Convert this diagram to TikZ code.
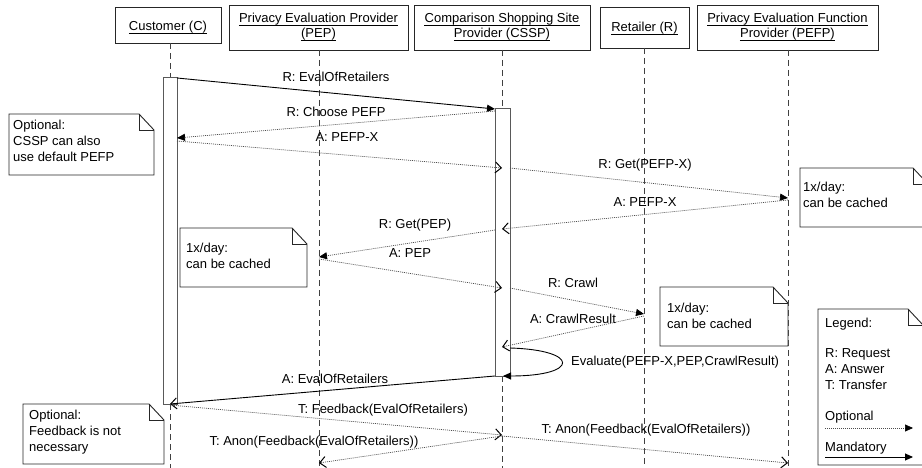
\documentclass[tikz,border=0pt]{standalone}
\usepackage{fontspec}
\setmainfont{Liberation Sans}
\usetikzlibrary{arrows.meta}
\tikzset{
  head/.style={draw=black!85, line width=0.9pt, inner sep=0pt, fill=white},
  headtext/.style={inner sep=0pt, anchor=center, text height=9.5pt, text depth=2.5pt},
  uline/.style={draw=black, line width=1.1pt},
  life/.style={draw=black!75, line width=0.8pt, dash pattern=on 6pt off 4pt},
  actbox/.style={draw=black!65, line width=1pt, fill=white},
  msgsolid/.style={draw=black, line width=0.9pt},
  msgopt/.style={draw=black!70, line width=0.7pt, dash pattern=on 1pt off 1pt},
  filled/.style={-{Triangle[length=8pt,width=7pt,color=black]}},
  open/.style={-{Straight Barb[length=6pt,width=11pt,line width=1pt,color=black]}},
  lbl/.style={inner sep=0pt, anchor=center},
  notetext/.style={inner sep=0pt, anchor=north west, align=left},
  notepath/.style={draw=black!85, line width=0.9pt, fill=white}
}
\newcommand\dognote[4]{%
  \draw[notepath] (#1,#2) -- (#3-15,#2) -- (#3,#2+16) -- (#3,#4) -- (#1,#4) -- cycle;
  \draw[notepath, fill=none] (#3-15,#2) -- (#3-15,#2+16) -- (#3,#2+16);
}
\newcommand\ulnode[1]{%
  \draw[uline] ([yshift=-2.6pt]#1.base west) -- ([yshift=-2.6pt]#1.base east);
}
\begin{document}
\begin{tikzpicture}[x=1pt,y=-1pt, font=\fontsize{13}{16}\selectfont]
\useasboundingbox[fill=white] (0,0) rectangle (922,468);

% headers
\node[head, minimum width=106pt, minimum height=36pt] (cust) at (168,25) {};
\node[headtext] (custt) at (168,27) {Customer (C)};
\node[head, minimum width=179pt, minimum height=45pt] (pep) at (318.5,27.5) {};
\node[headtext] (pept1) at (318.5,19) {Privacy Evaluation Provider};
\node[headtext] (pept2) at (318.5,34) {(PEP)};
\node[head, minimum width=176pt, minimum height=45pt] (cssp) at (502,27.5) {};
\node[headtext] (csspt1) at (502,19) {Comparison Shopping Site};
\node[headtext] (csspt2) at (502,34) {Provider (CSSP)};
\node[head, minimum width=89pt, minimum height=41pt] (ret) at (644.5,27.5) {};
\node[headtext] (rett) at (644.5,28) {Retailer (R)};
\node[head, minimum width=181pt, minimum height=45pt] (pefp) at (787.5,27.5) {};
\node[headtext] (pefpt1) at (787.5,19) {Privacy Evaluation Function};
\node[headtext] (pefpt2) at (787.5,34) {Provider (PEFP)};
\ulnode{custt}\ulnode{pept1}\ulnode{pept2}\ulnode{csspt1}\ulnode{csspt2}
\ulnode{rett}\ulnode{pefpt1}\ulnode{pefpt2}

% lifeline coordinates
\coordinate (custA) at (170,43);
\coordinate (custB) at (170,78);
\coordinate (custC) at (170,404);
\coordinate (custD) at (170,468);
\coordinate (pepA) at (319,50);
\coordinate (pepD) at (319,468);
\coordinate (csspA) at (502,50);
\coordinate (csspB) at (502,109);
\coordinate (csspC) at (502,376);
\coordinate (csspD) at (502,468);
\coordinate (retA) at (644,48);
\coordinate (retD) at (644,468);
\coordinate (pefpA) at (788,50);
\coordinate (pefpD) at (788,468);

\draw[life] (custA) -- (custB);
\draw[life] (custC) -- (custD);
\draw[life] (pepA) -- (pepD);
\draw[life] (csspA) -- (csspB);
\draw[life] (csspC) -- (csspD);
\draw[life] (retA) -- (retD);
\draw[life] (pefpA) -- (pefpD);

% activation boxes
\draw[actbox] (163,78) rectangle (177,404);
\draw[actbox] (495,109) rectangle (510,376);

% notes
\dognote{9}{114}{154}{175}
\node[notetext] (n1) at (13,120) {Optional:\\CSSP can also\\use default PEFP};
\dognote{800}{168}{928}{227}
\node[notetext] (n2) at (803,182) {1x/day:\\can be cached};
\dognote{180}{228}{307}{287}
\node[notetext] (n3) at (186,243) {1x/day:\\can be cached};
\dognote{660}{287}{788}{346}
\node[notetext] (n4) at (667,303) {1x/day:\\can be cached};
\dognote{23}{404}{164}{464}
\node[notetext] (n5) at (29,410) {Optional:\\Feedback is not\\necessary};
\dognote{818}{309}{923}{465}
\node[notetext] (lg1) at (825,318) {Legend:};
\node[notetext] (lg2) at (825,348) {R: Request\\A: Answer\\T: Transfer};
\node[notetext] (lg3) at (825,411) {Optional};
\node[notetext] (lg4) at (825,442) {Mandatory};
\coordinate (lgoA) at (825,428);
\coordinate (lgoB) at (913,428);
\coordinate (lgmA) at (825,457);
\coordinate (lgmB) at (913,457);
\draw[msgopt, filled] (lgoA) -- (lgoB);
\draw[msgsolid, filled] (lgmA) -- (lgmB);

% message endpoints
\coordinate (m1a) at (177,78);   \coordinate (m1b) at (495,109);
\coordinate (m2a) at (495,111);  \coordinate (m2b) at (177,138);
\coordinate (m3a) at (177,141);  \coordinate (m3b) at (502,168);
\coordinate (m4a) at (510,168);  \coordinate (m4b) at (788,198);
\coordinate (m5a) at (788,200);  \coordinate (m5b) at (502,229);
\coordinate (m6a) at (495,230);  \coordinate (m6b) at (319,257);
\coordinate (m7a) at (319,259);  \coordinate (m7b) at (502,288);
\coordinate (m8a) at (510,288);  \coordinate (m8b) at (644,314);
\coordinate (m9a) at (644,316);  \coordinate (m9b) at (502,347);
\coordinate (m10a) at (510,348); \coordinate (m10b) at (503,376);
\coordinate (m11a) at (495,376); \coordinate (m11b) at (170,404);
\coordinate (m12a) at (170,405); \coordinate (m12b) at (502,435);
\coordinate (m13a) at (502,436); \coordinate (m13b) at (319,463);
\coordinate (m14b) at (788,463);

% messages
\draw[msgsolid, filled] (m1a) -- (m1b);
\draw[msgopt, filled] (m2a) -- (m2b);
\draw[msgopt, open] (m3a) -- (m3b);
\draw[msgopt, filled] (m4a) -- (m4b);
\draw[msgopt, open] (m5a) -- (m5b);
\draw[msgopt, filled] (m6a) -- (m6b);
\draw[msgopt, open] (m7a) -- (m7b);
\draw[msgopt, filled] (m8a) -- (m8b);
\draw[msgopt, open] (m9a) -- (m9b);
\draw[msgsolid, filled] (m10a) .. controls (580,350) and (580,376) .. (m10b);
\draw[msgsolid, open] (m11a) -- (m11b);
\draw[msgopt, open] (m12a) -- (m12b);
\draw[msgopt, open] (m13a) -- (m13b);
\draw[msgopt, open] (m13a) -- (m14b);

% labels
\node[lbl] (l1) at (336,77) {R: EvalOfRetailers};
\node[lbl] (l2) at (336,112) {R: Choose PEFP};
\node[lbl] (l3) at (347,137) {A: PEFP-X};
\node[lbl] (l4) at (645,165) {R: Get(PEFP-X)};
\node[lbl] (l5) at (645,202) {A: PEFP-X};
\node[lbl] (l6) at (415,225) {R: Get(PEP)};
\node[lbl] (l7) at (410,253) {A: PEP};
\node[lbl] (l8) at (573,283) {R: Crawl};
\node[lbl] (l9) at (573,319) {A: CrawlResult};
\node[lbl, anchor=west] (l10) at (571,362) {Evaluate(PEFP-X,PEP,CrawlResult)};
\node[lbl] (l11) at (335,379) {A: EvalOfRetailers};
\node[lbl] (l12) at (383,410) {T: Feedback(EvalOfRetailers)};
\node[lbl] (l13) at (314,442) {T: Anon(Feedback(EvalOfRetailers))};
\node[lbl] (l14) at (646,430) {T: Anon(Feedback(EvalOfRetailers))};
\end{tikzpicture}
\end{document}
